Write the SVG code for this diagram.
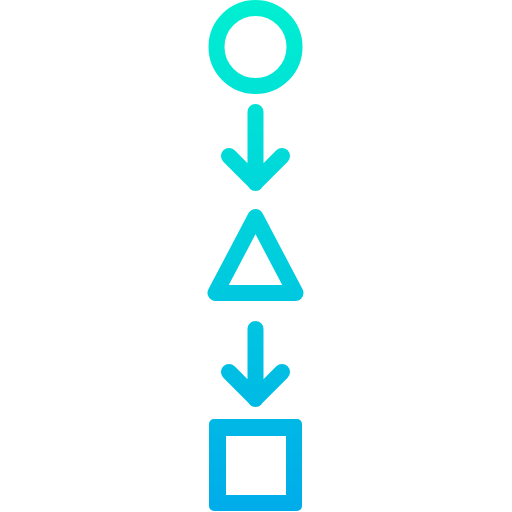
<svg xmlns="http://www.w3.org/2000/svg" width="512" height="512" viewBox="0 0 512 512">
<defs>
<linearGradient id="g" gradientUnits="userSpaceOnUse" x1="0" y1="0" x2="0" y2="512">
<stop offset="0" stop-color="#00efd1"/>
<stop offset="1" stop-color="#00acea"/>
</linearGradient>
<style>
.s{fill:none;stroke:url(#g);stroke-width:16;stroke-linecap:round;stroke-linejoin:round}
.f{fill:url(#g);fill-rule:evenodd}
</style>
</defs>
<rect width="512" height="512" fill="#ffffff"/>
<g id="circle"><circle class="s" cx="255.5" cy="47" r="39"/></g>
<g id="triangle"><path class="s" d="M255.5 217 L215.5 293 L295.5 293 Z"/></g>
<g id="square"><path class="f" d="M214 419 H297 A5 5 0 0 1 302 424 V506 A5 5 0 0 1 297 511 H214 A5 5 0 0 1 209 506 V424 A5 5 0 0 1 214 419 Z M226 436 V495 H286 V436 Z"/></g>
<g id="connectors">
<path class="s" d="M255.5 112 V183 M229 156 L255.5 182.5 L282 156"/>
<path class="s" d="M255.5 329 V399 M229 372 L255.5 398.5 L282 372"/>
</g>
</svg>
